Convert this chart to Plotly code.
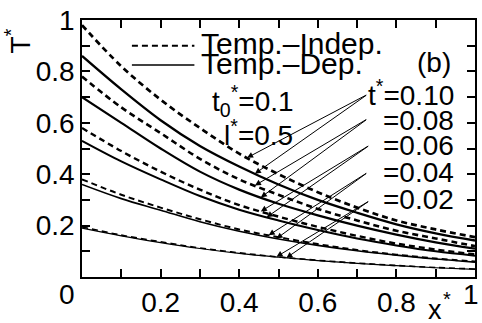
import numpy as np
import plotly.graph_objects as go

# ---- data ----
x_vals = [0.0, 0.1, 0.2, 0.3, 0.4, 0.5, 0.6, 0.7, 0.8, 0.9, 1.0]

indep_010 = [0.98, 0.82, 0.69, 0.58, 0.48, 0.40, 0.33, 0.27, 0.22, 0.185, 0.155]
dep_010 = [0.86, 0.73, 0.61, 0.51, 0.43, 0.36, 0.30, 0.25, 0.205, 0.17, 0.142]
indep_008 = [0.78, 0.66, 0.56, 0.46, 0.38, 0.32, 0.265, 0.22, 0.18, 0.15, 0.12]
dep_008 = [0.70, 0.60, 0.50, 0.41, 0.34, 0.285, 0.24, 0.20, 0.165, 0.135, 0.11]
indep_006 = [0.58, 0.49, 0.41, 0.34, 0.28, 0.235, 0.195, 0.16, 0.13, 0.107, 0.088]
dep_006 = [0.53, 0.45, 0.38, 0.315, 0.262, 0.22, 0.183, 0.15, 0.123, 0.10, 0.083]
indep_004 = [0.38, 0.32, 0.27, 0.225, 0.185, 0.155, 0.128, 0.105, 0.087, 0.072, 0.06]
dep_004 = [0.36, 0.305, 0.26, 0.215, 0.178, 0.148, 0.123, 0.102, 0.085, 0.07, 0.058]
indep_002 = [0.195, 0.163, 0.137, 0.113, 0.094, 0.078, 0.065, 0.054, 0.045, 0.037, 0.031]
dep_002 = [0.19, 0.16, 0.134, 0.111, 0.092, 0.077, 0.064, 0.053, 0.044, 0.036, 0.03]

t_labels = ["t<sup>*</sup>=0.10", "=0.08", "=0.06", "=0.04", "=0.02"]
indep_series = [indep_010, indep_008, indep_006, indep_004, indep_002]
dep_series = [dep_010, dep_008, dep_006, dep_004, dep_002]
# x positions along the curves where the arrows point (indep, dep)
arrow_targets = [(0.42, 0.44), (0.44, 0.455), (0.455, 0.47), (0.475, 0.495), (0.495, 0.52)]
# arrow tail positions (start near each label)
arrow_tails = [(0.727, 0.711), (0.727, 0.616), (0.732, 0.513), (0.727, 0.407), (0.732, 0.297)]
label_y = [0.715, 0.61, 0.51, 0.405, 0.30]

x_ticks = [round(0.1 * i, 1) for i in range(11)]
x_ticktext = ["", "", "0.2", "", "0.4", "", "0.6", "", "0.8", "", ""]
y_ticks = [round(0.1 * i, 1) for i in range(11)]
y_ticktext = ["", "", "0.2", "", "0.4", "", "0.6", "", "0.8", "", "1"]

FONT = "Liberation Sans, Arial, sans-serif"
widths = [2.3, 2.2, 2.0, 1.6, 1.2]


def txt(x, y, text, size=29, xanchor="center", ref="x", angle=0):
    return dict(x=x, y=y, xref=ref, yref=("y" if ref == "x" else "paper"), text=text,
                showarrow=False, xanchor=xanchor, yanchor="middle", textangle=angle,
                font=dict(family=FONT, size=size, color="black"))


fig = go.Figure()
for i in range(5):
    fig.add_trace(go.Scatter(x=x_vals, y=indep_series[i], mode="lines",
                             line=dict(color="black", width=widths[i] + 0.4, dash="6px,4px", shape="spline"),
                             showlegend=False, hoverinfo="skip"))
    fig.add_trace(go.Scatter(x=x_vals, y=dep_series[i], mode="lines",
                             line=dict(color="black", width=widths[i], shape="spline"),
                             showlegend=False, hoverinfo="skip"))

annotations = []
for i in range(5):
    tx, ty = arrow_tails[i]
    for j, ser in enumerate((indep_series[i], dep_series[i])):
        hx = arrow_targets[i][j]
        hy = float(np.interp(hx, x_vals, ser))
        annotations.append(dict(x=hx, y=hy, ax=tx, ay=ty, xref="x", yref="y",
                                axref="x", ayref="y", text="", showarrow=True,
                                arrowhead=2, arrowsize=1.2, arrowwidth=1, arrowcolor="black"))
    annotations.append(txt(0.952, label_y[i], t_labels[i], size=28, xanchor="right"))

# legend texts and labels
annotations.append(txt(0.298, 0.91, "Temp.–Indep.", size=30, xanchor="left"))
annotations.append(txt(0.298, 0.83, "Temp.–Dep.", size=30, xanchor="left"))
annotations.append(txt(0.895, 0.835, "(b)", size=28))
annotations.append(txt(0.325, 0.685, "t<sub>0</sub><sup>*</sup>=0.1", size=28, xanchor="left"))
annotations.append(txt(0.355, 0.56, "l<sup>*</sup>=0.5", size=28, xanchor="left"))
# axis titles and corner labels (paper coords)
annotations.append(txt(-0.162, 0.918, "T<sup>*</sup>", size=28, ref="paper", angle=-90))
annotations.append(txt(0.897, -0.13, "x", size=27, ref="paper"))
annotations.append(txt(0.93, -0.087, "*", size=20, ref="paper"))
annotations.append(txt(-0.038, -0.068, "0", size=28, ref="paper"))
annotations.append(txt(0.99, -0.068, "1", size=28, ref="paper"))

shapes = [
    dict(type="line", xref="x", yref="y", x0=0.127, x1=0.286, y0=0.90, y1=0.90,
         line=dict(color="black", width=2, dash="6px,4px")),
    dict(type="line", xref="x", yref="y", x0=0.127, x1=0.286, y0=0.825, y1=0.825,
         line=dict(color="black", width=1.5)),
]

axis_common = dict(range=[0, 1], showgrid=False, zeroline=False, showline=True, mirror="allticks",
                   linecolor="black", linewidth=1.5, ticks="inside", ticklen=8, tickwidth=1.5,
                   tickcolor="black", tickfont=dict(family=FONT, size=28, color="black"))

fig.update_layout(
    width=482, height=323,
    margin=dict(l=82, r=5, t=17, b=43),
    paper_bgcolor="white", plot_bgcolor="white",
    xaxis=dict(tickmode="array", tickvals=x_ticks, ticktext=x_ticktext, **axis_common),
    yaxis=dict(tickmode="array", tickvals=y_ticks, ticktext=y_ticktext, **axis_common),
    annotations=annotations, shapes=shapes,
)

fig.write_html("out.html")
